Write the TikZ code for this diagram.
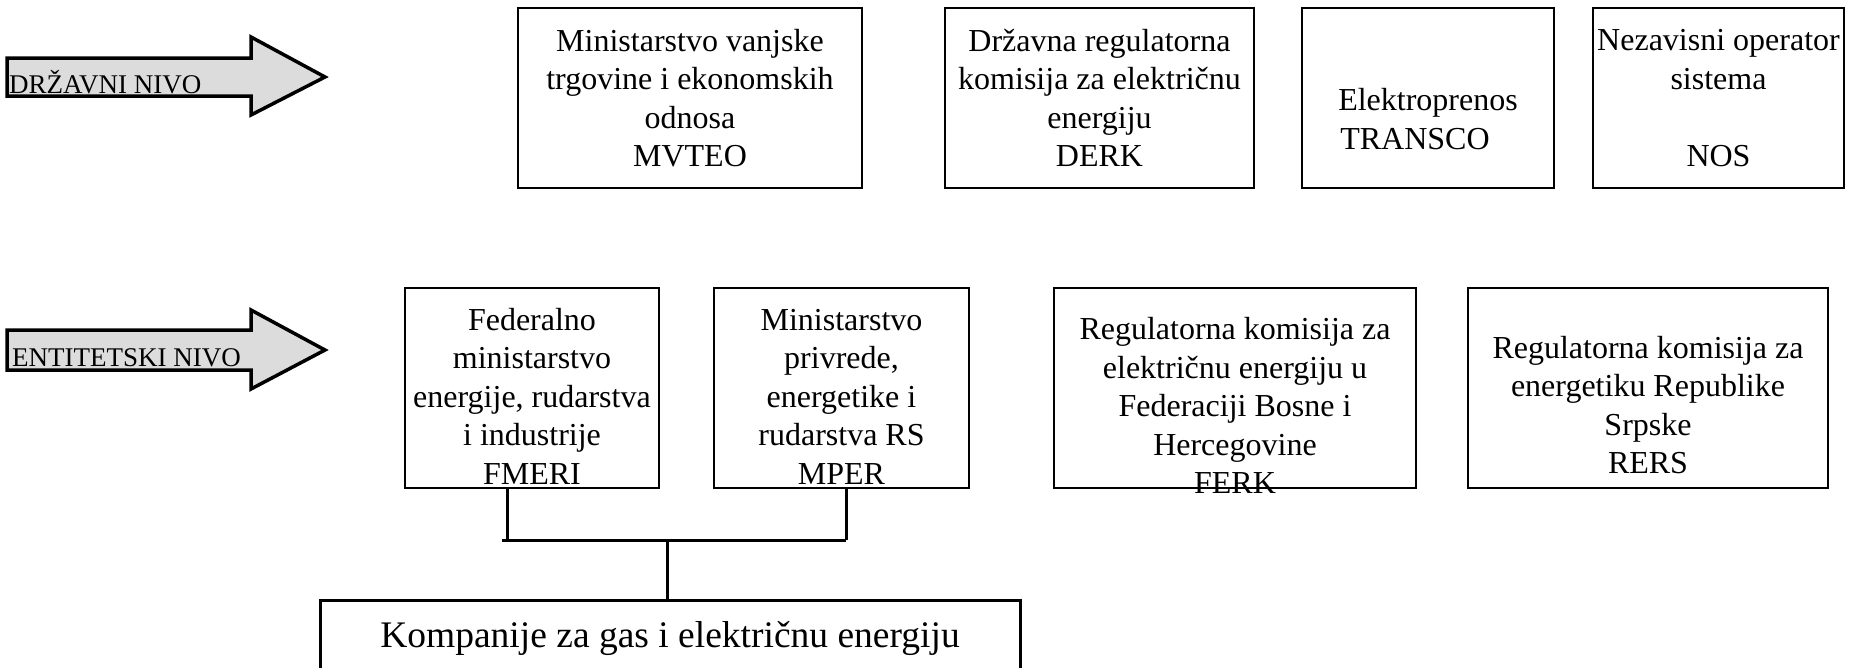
\documentclass[tikz,border=0pt]{standalone}
\usepackage{fontspec}
\setmainfont{Liberation Serif}
\usetikzlibrary{calc}

\definecolor{arrowgray}{RGB}{220,220,220}

\tikzset{
  orgbox/.style={draw, line width=2pt, inner sep=0pt, align=center,
    font=\fontsize{32}{38.5}\selectfont},
  levelarrow/.style={draw, line width=3.5pt, fill=arrowgray},
  leveltext/.style={inner sep=0pt, anchor=base west, font=\fontsize{27}{30}\selectfont},
  link/.style={line width=3pt},
}

\begin{document}
\begin{tikzpicture}[x=1pt,y=-1pt]
% Parameters
\def\topH{180}
\def\botH{200}

\useasboundingbox (0,0) rectangle (1863,667);
\clip (0,0) rectangle (1863,667);

% Level arrows
\draw[levelarrow] (7,58) -- (251,58) -- (251,37) -- (325,77) -- (251,115) -- (251,96) -- (7,96) -- cycle;
\node[leveltext] (drzavni) at (9,93) {DRŽAVNI NIVO};
\draw[levelarrow] (7,330) -- (251,330) -- (251,310) -- (325,350) -- (251,389) -- (251,370) -- (7,370) -- cycle;
\node[leveltext] (entitetski) at (12,366) {ENTITETSKI NIVO};

% State level
\node[orgbox, minimum width=344, minimum height=\topH] (mvteo) at (690,98)
  {Ministarstvo vanjske\\trgovine i ekonomskih\\odnosa\\MVTEO};
\node[orgbox, minimum width=309, minimum height=\topH] (derk) at (1099.5,98)
  {Državna regulatorna\\komisija za električnu\\energiju\\DERK};
\node[orgbox, minimum width=252, minimum height=\topH] (transco) at (1428,98)
  {\rule{0pt}{26pt}\\Elektroprenos\\TRANSCO\hspace*{26pt}};
\node[orgbox, minimum width=251, minimum height=\topH] (nos) at (1718.5,98)
  {Nezavisni operator\\sistema\\\mbox{}\\NOS};

% Entity level
\node[orgbox, minimum width=254, minimum height=\botH] (fmeri) at (532,388)
  {\rule{0pt}{38pt}Federalno\\ministarstvo\\energije, rudarstva\\i industrije\\FMERI};
\node[orgbox, minimum width=255, minimum height=\botH] (mper) at (841.5,388)
  {\rule{0pt}{38pt}Ministarstvo\\privrede,\\energetike i\\rudarstva RS\\MPER};
\node[orgbox, minimum width=362, minimum height=\botH] (ferk) at (1235,388)
  {\raisebox{-21pt}[\height][\depth]{\begin{tabular}{@{}c@{}}Regulatorna komisija za\\električnu energiju u\\Federaciji Bosne i\\Hercegovine\\FERK\end{tabular}}};
\node[orgbox, minimum width=360, minimum height=\botH] (rers) at (1648,388)
  {\rule{0pt}{18pt}\\Regulatorna komisija za\\energetiku Republike\\Srpske\\RERS};

% Companies
\node[orgbox, line width=3pt, minimum width=700, minimum height=76,
  font=\fontsize{37.5}{45}\selectfont] (komp) at (670,638)
  {Kompanije za gas i električnu energiju};

% Links
\coordinate (jl) at (507,540);
\coordinate (jr) at (846,540);
\coordinate (jc) at (667,540);
\draw[link] (fmeri.south -| jl) -- (jl);
\draw[link] (mper.south -| jr) -- (jr);
\draw[link] ($(jl)+(-5,0)$) -- (jr);
\draw[link] (jc) -- (komp.north -| jc);
\end{tikzpicture}
\end{document}
